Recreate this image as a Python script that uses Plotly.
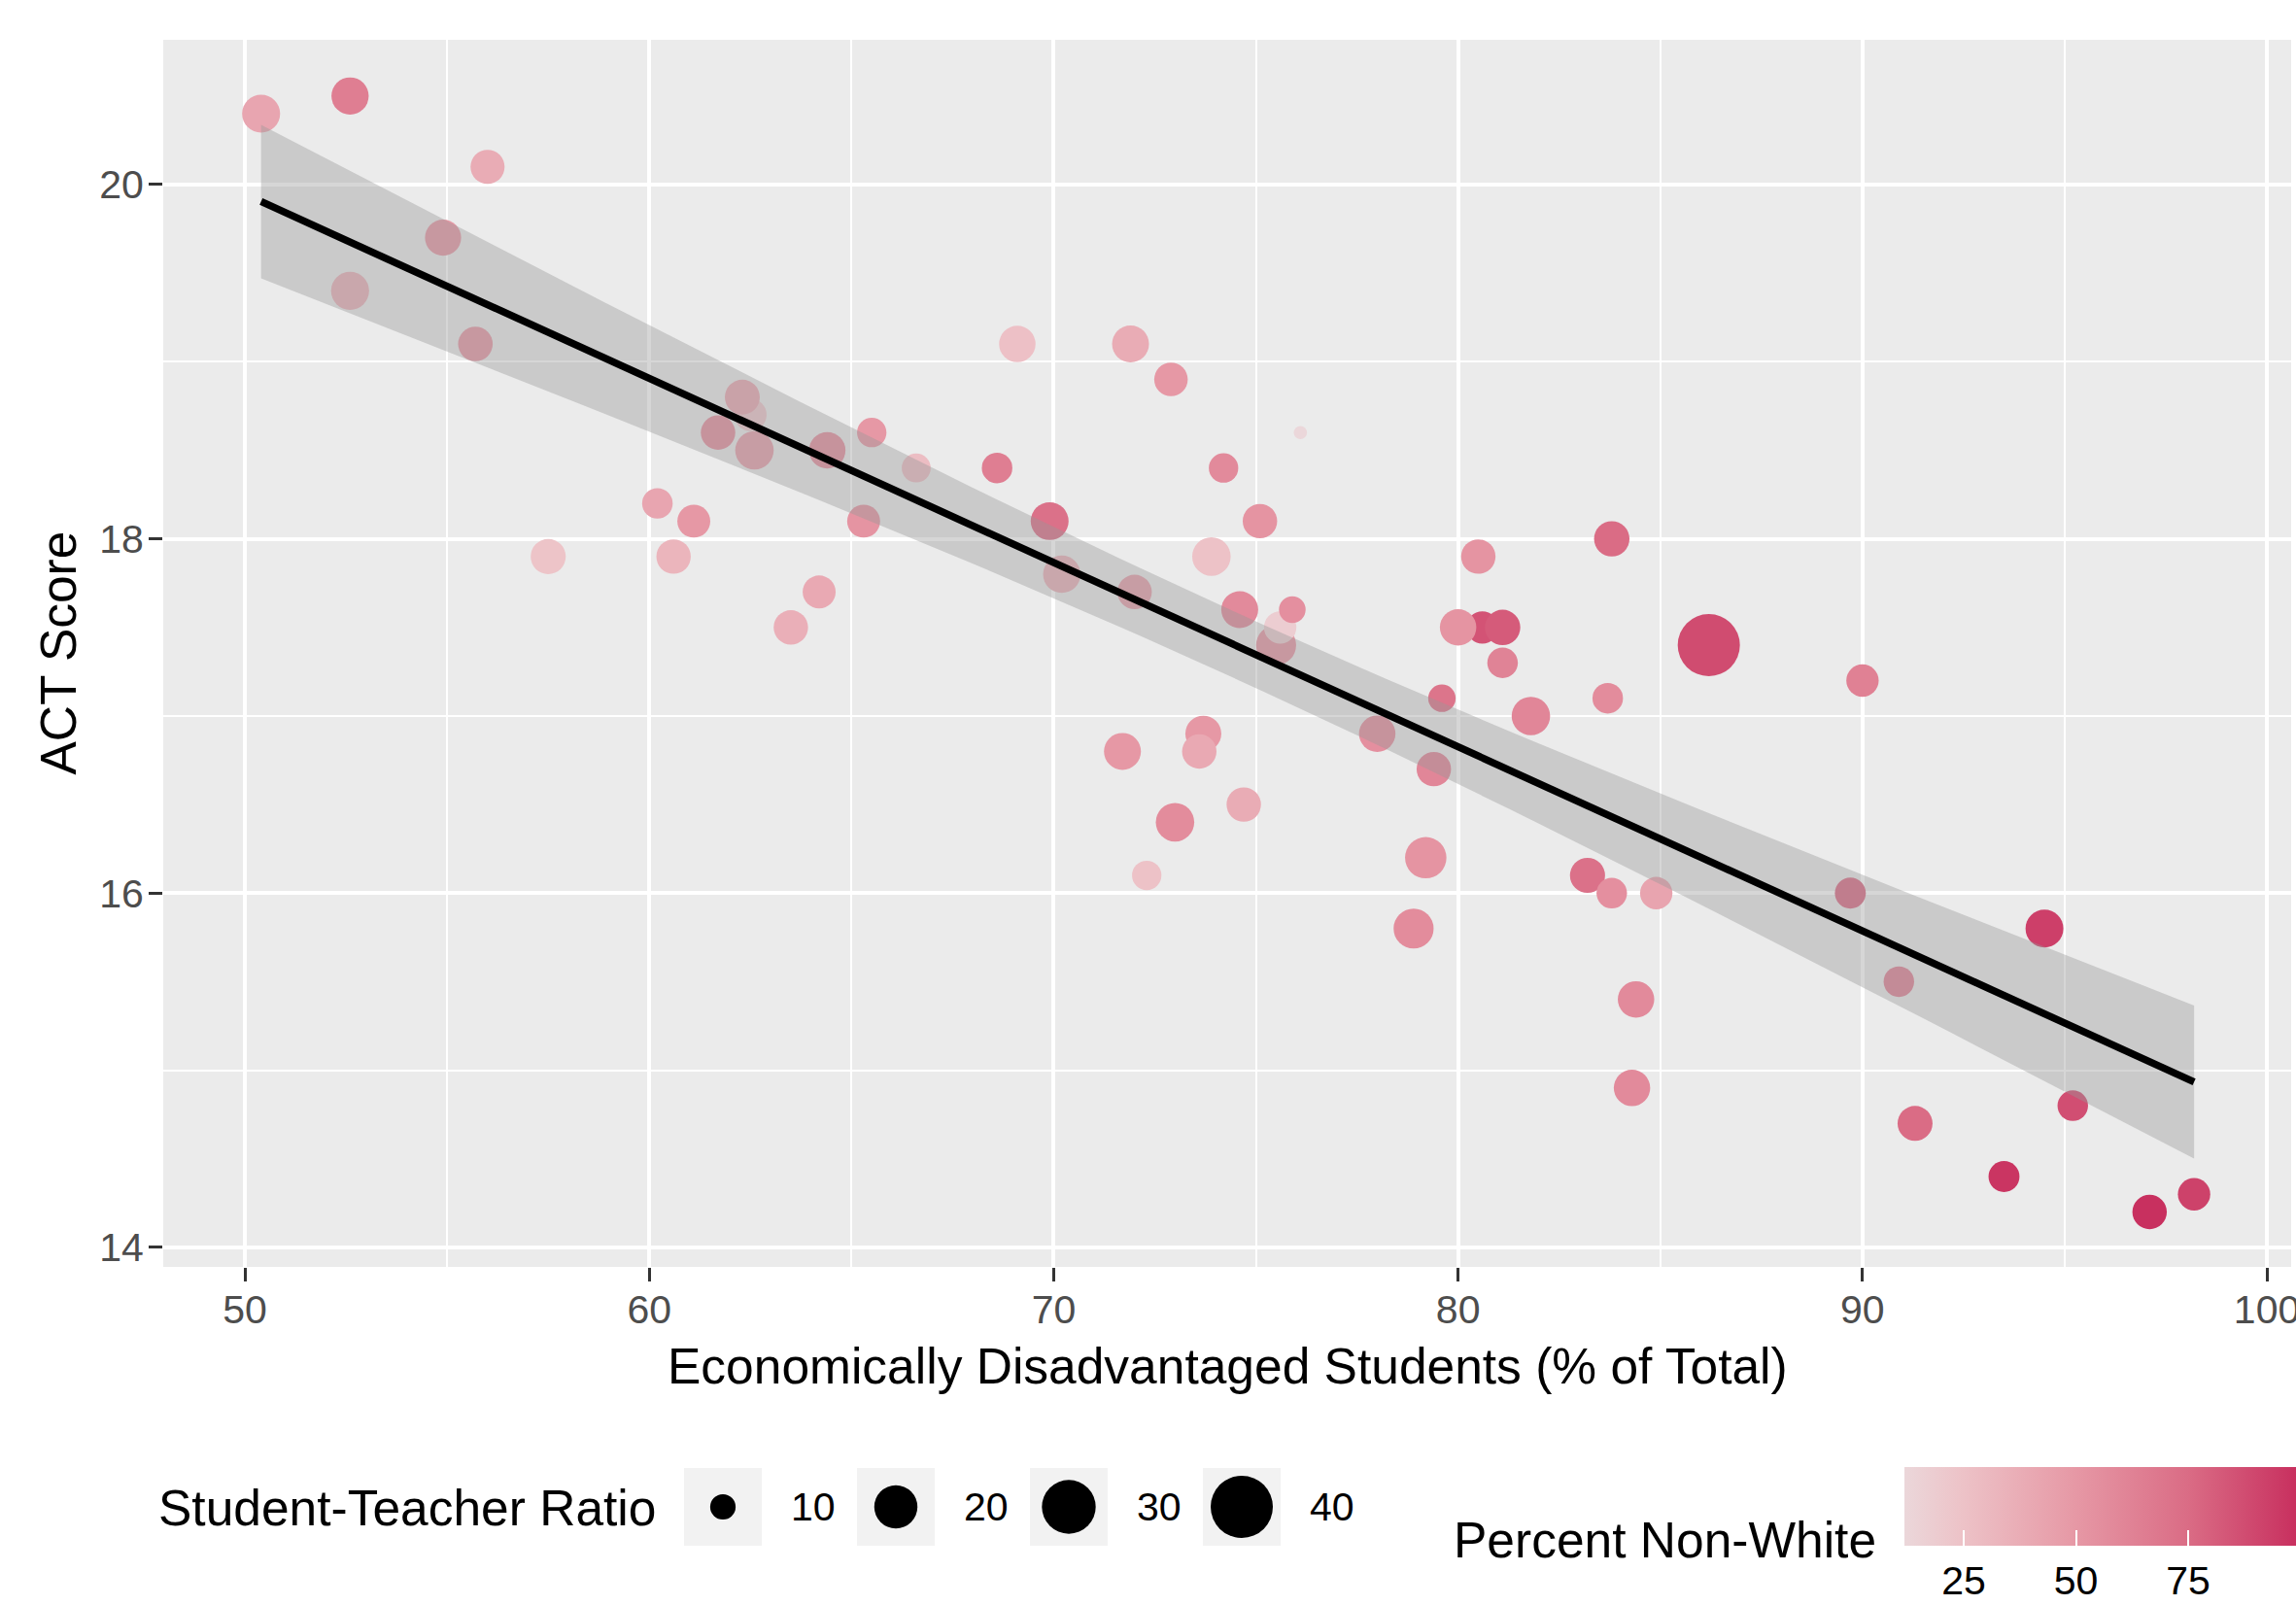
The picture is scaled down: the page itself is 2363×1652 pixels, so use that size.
import numpy as np
import plotly.graph_objects as go

# ---------------- data ----------------
econ_disadv = [50.4, 52.6, 56.0, 54.9, 52.6, 55.7, 57.5, 60.2, 60.6, 61.1,
               62.5, 61.7, 62.3, 62.6, 63.5, 64.2, 64.4, 65.5, 65.3, 66.6,
               68.6, 69.1, 69.9, 70.2, 71.9, 72.9, 72.0, 71.7, 73.0, 72.3,
               73.7, 73.6, 73.9, 74.2, 74.7, 74.6, 75.1, 75.5, 75.6, 75.9,
               76.1, 78.0, 79.4, 79.6, 78.9, 79.2, 80.6, 80.0, 80.5, 81.1,
               81.1, 81.8, 83.8, 83.7, 83.2, 83.8, 84.9, 84.4, 84.3, 86.2,
               90.0, 89.7, 90.9, 91.3, 93.5, 94.5, 95.2, 97.1, 98.2]
act_score = [20.4, 20.5, 20.1, 19.7, 19.4, 19.1, 17.9, 18.2, 17.9, 18.1,
             18.7, 18.6, 18.8, 18.5, 17.5, 17.7, 18.5, 18.6, 18.1, 18.4,
             18.4, 19.1, 18.1, 17.8, 19.1, 18.9, 17.7, 16.8, 16.4, 16.1,
             16.9, 16.8, 17.9, 18.4, 16.5, 17.6, 18.1, 17.4, 17.5, 17.6,
             18.6, 16.9, 16.7, 17.1, 15.8, 16.2, 17.5, 17.5, 17.9, 17.5,
             17.3, 17.0, 18.0, 17.1, 16.1, 16.0, 16.0, 15.4, 14.9, 17.4,
             17.2, 16.0, 15.5, 14.7, 14.4, 15.8, 14.8, 14.2, 14.3]
student_teacher_ratio = [16.2, 15.7, 13.8, 15.0, 16.2, 14.1, 14.4, 12.0, 14.0, 13.2,
                         12.9, 14.0, 14.3, 16.5, 14.0, 13.2, 15.2, 11.5, 13.2, 11.3,
                         12.0, 15.2, 16.1, 15.8, 15.5, 13.5, 14.0, 15.5, 16.5, 11.5,
                         14.9, 14.0, 16.5, 11.5, 14.0, 15.5, 14.0, 17.6, 12.9, 10.4,
                         8.0, 15.2, 14.0, 10.7, 17.6, 18.6, 12.9, 15.2, 14.0, 14.6,
                         12.0, 16.5, 14.6, 12.0, 14.4, 12.0, 12.9, 15.2, 15.2, 40.0,
                         12.9, 12.2, 12.0, 14.3, 12.2, 16.1, 12.0, 14.0, 12.9]
pct_nonwhite = [42, 65, 38, 50, 35, 50, 24, 42, 33, 50,
                22, 55, 40, 45, 36, 40, 55, 50, 52, 28,
                65, 26, 72, 35, 38, 50, 45, 50, 57, 25,
                50, 40, 25, 58, 38, 58, 52, 50, 18, 55,
                12, 55, 60, 70, 57, 52, 85, 52, 52, 82,
                62, 60, 75, 57, 72, 55, 43, 58, 58, 88,
                63, 75, 62, 75, 97, 93, 87, 99, 92]

x_ticks = [50, 60, 70, 80, 90, 100]
y_ticks = [14, 16, 18, 20]
size_breaks = [10, 20, 30, 40]
color_ticks = [25, 50, 75]

# ---------------- page geometry ----------------
W, H = 2363, 1652
PANEL_L, PANEL_R, PANEL_T, PANEL_B = 168, 2358, 41, 1304   # page pixels


def fx(p):   # page x pixel -> paper fraction
    return p / W


def fy(p):   # page y pixel -> paper fraction
    return 1 - p / H


FONT = "Liberation Sans, Arial, sans-serif"
TICK_SIZE = 41
TITLE_SIZE = 51.5

# size scale (area palette like ggplot's scale_size)
R_MIN, R_MAX = 8.0, 40.0
D_MIN, D_MAX = 13.6, 64.0


def size_px(v):
    v = np.asarray(v, dtype=float)
    t = np.clip((v - R_MIN) / (R_MAX - R_MIN), 0, 1)
    return D_MIN + (D_MAX - D_MIN) * np.sqrt(t)


C_MIN, C_MAX = 11.8, 99.0
colorscale = [[0.0, "#EBD7DA"], [0.151, "#EDC2C7"], [0.438, "#E698A5"],
              [0.725, "#DA6C85"], [1.0, "#C8305F"]]

# ---------------- linear model fit with 95% CI ----------------
x = np.array(econ_disadv)
y = np.array(act_score)
n = len(x)
b1, b0 = np.polyfit(x, y, 1)
resid = y - (b0 + b1 * x)
s = np.sqrt(np.sum(resid ** 2) / (n - 2))
sxx = np.sum((x - x.mean()) ** 2)
t_q = 1.996  # t quantile, 0.975, df ~ 67
xf = np.linspace(x.min(), x.max(), 80)
yf = b0 + b1 * xf
se = s * np.sqrt(1.0 / n + (xf - x.mean()) ** 2 / sxx)
lo, hi = yf - t_q * se, yf + t_q * se

fig = go.Figure()

fig.add_trace(go.Scatter(
    x=econ_disadv, y=act_score, mode="markers", xaxis="x", yaxis="y",
    marker=dict(size=size_px(student_teacher_ratio), sizemode="diameter",
                color=pct_nonwhite, colorscale=colorscale, cmin=C_MIN, cmax=C_MAX,
                opacity=1, line=dict(width=0), showscale=True,
                colorbar=dict(orientation="h", x=fx(1960), xanchor="left",
                              y=fy(1510), yanchor="top",
                              len=W - 1960, lenmode="pixels", thickness=81,
                              thicknessmode="pixels", outlinewidth=0,
                              tickmode="array", tickvals=color_ticks,
                              ticks="inside", ticklen=16, tickcolor="white",
                              tickwidth=2, xpad=0, ypad=0,
                              tickfont=dict(size=TICK_SIZE, color="black", family=FONT))),
    showlegend=False, hoverinfo="skip"))

fig.add_trace(go.Scatter(x=xf, y=lo, mode="lines", line=dict(width=0),
                         showlegend=False, hoverinfo="skip"))
fig.add_trace(go.Scatter(x=xf, y=hi, mode="lines", line=dict(width=0),
                         fill="tonexty", fillcolor="rgba(153,153,153,0.4)",
                         showlegend=False, hoverinfo="skip"))
fig.add_trace(go.Scatter(x=xf, y=yf, mode="lines",
                         line=dict(color="black", width=7.5),
                         showlegend=False, hoverinfo="skip"))

# ---------------- size legend (own small axes) ----------------
key_pos = list(range(len(size_breaks)))
fig.add_trace(go.Scatter(x=key_pos, y=[0] * len(key_pos), mode="markers", xaxis="x2", yaxis="y2",
                         marker=dict(symbol="square", size=80, color="#F2F2F2", opacity=1,
                                     line=dict(width=0)),
                         showlegend=False, hoverinfo="skip"))
fig.add_trace(go.Scatter(x=key_pos, y=[0] * len(key_pos), mode="markers", xaxis="x2", yaxis="y2",
                         marker=dict(size=size_px(size_breaks), color="#000000", opacity=1,
                                     line=dict(width=0)),
                         showlegend=False, hoverinfo="skip"))

annotations = []
for i, b in zip(key_pos, size_breaks):
    annotations.append(dict(x=i, y=0, xref="x2", yref="y2", text=str(b), showarrow=False,
                            xanchor="left", yanchor="middle", xshift=68,
                            font=dict(size=TICK_SIZE, color="black", family=FONT)))

annotations += [
    dict(x=fx((PANEL_L + PANEL_R) / 2), y=fy(1406), xref="paper", yref="paper",
         text="Economically Disadvantaged Students (% of Total)", showarrow=False,
         xanchor="center", yanchor="middle", font=dict(size=TITLE_SIZE, color="black", family=FONT)),
    dict(x=fx(60), y=fy((PANEL_T + PANEL_B) / 2), xref="paper", yref="paper",
         text="ACT Score", showarrow=False, textangle=-90,
         xanchor="center", yanchor="middle", font=dict(size=TITLE_SIZE, color="black", family=FONT)),
    dict(x=fx(161), y=fy(1552), xref="paper", yref="paper",
         text="Student-Teacher Ratio", showarrow=False,
         xanchor="left", yanchor="middle", font=dict(size=TITLE_SIZE, color="black", family=FONT)),
    dict(x=fx(1933), y=fy(1585), xref="paper", yref="paper",
         text="Percent Non-White", showarrow=False,
         xanchor="right", yanchor="middle", font=dict(size=TITLE_SIZE, color="black", family=FONT)),
]

shapes = [dict(type="rect", xref="x domain", yref="y domain", x0=0, x1=1, y0=0, y1=1,
               fillcolor="#EBEBEB", line=dict(width=0), layer="below")]

fig.update_layout(
    width=W, height=H, autosize=False,
    margin=dict(l=0, r=0, t=0, b=0, pad=0, autoexpand=False),
    paper_bgcolor="white", plot_bgcolor="rgba(0,0,0,0)",
    font=dict(family=FONT),
    showlegend=False,
    annotations=annotations,
    shapes=shapes,
    xaxis=dict(domain=[fx(PANEL_L), fx(PANEL_R)], range=[47.98, 100.6],
               tickmode="array", tickvals=x_ticks, ticks="outside", ticklen=14,
               tickwidth=3, tickcolor="#333333", ticklabeloverflow="allow",
               ticklabelstandoff=-6,
               tickfont=dict(size=TICK_SIZE, color="#4D4D4D", family=FONT),
               showgrid=True, gridcolor="white", gridwidth=4, zeroline=False,
               showline=False, automargin=False, anchor="y",
               minor=dict(tickvals=[55, 65, 75, 85, 95], showgrid=True,
                          gridcolor="white", gridwidth=2, ticks="")),
    yaxis=dict(domain=[fy(PANEL_B), fy(PANEL_T)], range=[13.89, 20.817],
               tickmode="array", tickvals=y_ticks, ticks="outside", ticklen=14,
               tickwidth=3, tickcolor="#333333", ticklabelstandoff=-3,
               tickfont=dict(size=TICK_SIZE, color="#4D4D4D", family=FONT),
               showgrid=True, gridcolor="white", gridwidth=4, zeroline=False,
               showline=False, automargin=False, anchor="x",
               minor=dict(tickvals=[15, 17, 19], showgrid=True,
                          gridcolor="white", gridwidth=2, ticks="")),
    xaxis2=dict(domain=[fx(655), fx(1367)], range=[-0.5, 3.5],
                visible=False, anchor="y2", fixedrange=True),
    yaxis2=dict(domain=[fy(1601), fy(1501)], range=[-1, 1],
                visible=False, anchor="x2", fixedrange=True),
)

fig.write_html("out.html", config={"displayModeBar": False},
               post_script="document.body.style.margin='0';document.body.style.overflow='hidden';")
